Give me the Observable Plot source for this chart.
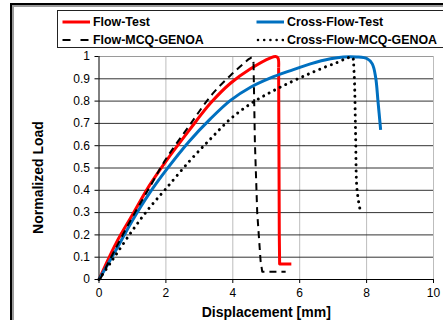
<!DOCTYPE html>
<html><head><meta charset="utf-8">
<script src="https://cdn.jsdelivr.net/npm/d3@7"></script>
<script src="https://cdn.jsdelivr.net/npm/@observablehq/plot@0.6"></script>
<style>
body{margin:0;background:#fff;}
#wrap{position:relative;width:443px;height:320px;overflow:hidden;font-family:"Liberation Sans",Arial,sans-serif;background:#fff;}
#frame{position:absolute;left:10px;top:3px;width:500px;height:400px;border-left:2px solid #000;border-top:2px solid #000;}
#frame2{position:absolute;left:12px;top:5px;width:500px;height:400px;border-left:2px solid #9a9a9a;border-top:2px solid #9a9a9a;}
#legend{position:absolute;left:57px;top:10px;width:400px;height:36px;border:1px solid #222;}
.item{position:absolute;display:flex;align-items:center;height:16px;font-weight:bold;font-size:12.4px;color:#000;white-space:nowrap;}
.item svg{margin-right:3px;}
#chart{position:absolute;left:0;top:47px;}
</style></head><body>
<div id="wrap"><div id="frame"></div><div id="frame2"></div><div id="legend"></div><div id="chart"></div></div>
<script>
// ---- data ----
const seriesNames = ["Flow-Test", "Cross-Flow-Test", "Flow-MCQ-GENOA", "Cross-Flow-MCQ-GENOA"];

const flowTestX = [0, 0.5, 1.0, 1.5, 2.0, 2.7, 3.33, 3.93, 4.53, 5.13, 5.28, 5.35, 5.37, 5.39, 5.40, 5.75];
const flowTestY = [0, 0.16, 0.29, 0.42, 0.53, 0.67, 0.79, 0.88, 0.945, 0.994, 1.0, 0.993, 0.95, 0.2, 0.07, 0.07];

const crossFlowTestX = [0, 0.5, 1.0, 1.5, 2.0, 2.7, 3.33, 3.93, 4.53, 5.13, 5.73, 6.32, 6.92, 7.3, 7.7, 8.02, 8.17, 8.27, 8.34, 8.42];
const crossFlowTestY = [0, 0.13, 0.265, 0.385, 0.489, 0.62, 0.72, 0.803, 0.862, 0.904, 0.937, 0.967, 0.99, 0.998, 0.998, 0.99, 0.967, 0.907, 0.80, 0.671];

const flowGenoaX = [0.03, 0.5, 1.0, 1.5, 2.0, 2.7, 3.38, 3.93, 4.3, 4.5, 4.58, 4.62, 4.66, 4.73, 4.83, 4.88, 5.58];
const flowGenoaY = [0, 0.14, 0.28, 0.41, 0.54, 0.69, 0.83, 0.915, 0.965, 0.99, 0.995, 0.97, 0.62, 0.3, 0.085, 0.035, 0.035];

const crossFlowGenoaX = [0, 0.39, 1.0, 1.5, 2.0, 2.7, 3.33, 3.93, 4.53, 5.13, 5.73, 6.32, 6.8, 7.1, 7.37, 7.57, 7.62, 7.67, 7.70, 7.74, 7.80, 7.84];
const crossFlowGenoaY = [0, 0.085, 0.22, 0.32, 0.407, 0.53, 0.63, 0.72, 0.788, 0.84, 0.885, 0.925, 0.955, 0.972, 0.99, 0.997, 0.94, 0.653, 0.43, 0.37, 0.317, 0.295];

// index where the sudden drop (straight segments) begins; -1 = smooth throughout
const dropStart = [12, -1, 11, -1];

const xTicks = [0, 2, 4, 6, 8, 10];
const yTicks = [0, 0.1, 0.2, 0.3, 0.4, 0.5, 0.6, 0.7, 0.8, 0.9, 1];
const xTitle = "Displacement [mm]";
const yTitle = "Normalized Load";

// ---- styles ----
const styles = [
  {stroke: "#ff0000", strokeWidth: 3, dash: null, cap: "butt"},
  {stroke: "#0070c0", strokeWidth: 3, dash: null, cap: "butt"},
  {stroke: "#000000", strokeWidth: 2, dash: "7 5", cap: "butt"},
  {stroke: "#000000", strokeWidth: 3, dash: "0.01 6.2", cap: "round"}
];
const xsList = [flowTestX, crossFlowTestX, flowGenoaX, crossFlowGenoaX];
const ysList = [flowTestY, crossFlowTestY, flowGenoaY, crossFlowGenoaY];
const rows = xsList.map((xs, k) => xs.map((x, i) => ({x, y: ysList[k][i]})));

// ---- legend ----
const legendPos = [[4, 3], [198, 3], [4, 21], [198, 21]];
const legend = document.getElementById("legend");
seriesNames.forEach((name, k) => {
  const s = styles[k];
  const it = document.createElement("div");
  it.className = "item";
  it.style.left = legendPos[k][0] + "px";
  it.style.top = legendPos[k][1] + "px";
  const dash = k === 2 ? "8 10" : s.dash;
  it.innerHTML = `<svg width="28" height="16"><line x1="${k===3?2:0.5}" x2="28" y1="8" y2="8" stroke="${s.stroke}" stroke-width="${k===3?2.6:s.strokeWidth}" ${dash ? `stroke-dasharray="${dash}"` : ""} stroke-linecap="${s.cap}"/></svg><span>${name}</span>`;
  legend.appendChild(it);
});

// ---- line marks ----
const lineMarks = [];
rows.forEach((r, k) => {
  const s = styles[k];
  const opts = {x: "x", y: "y", stroke: s.stroke, strokeWidth: s.strokeWidth, strokeDasharray: s.dash, strokeLinecap: s.cap};
  const b = dropStart[k];
  if (b < 0) {
    lineMarks.push(Plot.line(r, {...opts, curve: "catmull-rom"}));
  } else {
    lineMarks.push(Plot.line(r.slice(0, b + 1), {...opts, curve: "catmull-rom"}));
    lineMarks.push(Plot.line(r.slice(b), {...opts, curve: "linear", strokeLinejoin: "round"}));
  }
});

// ---- chart ----
const font = '"Liberation Sans", Arial, sans-serif';
const chart = Plot.plot({
  width: 443,
  height: 273,
  marginLeft: 98.5,
  marginRight: 10,
  marginTop: 9,
  marginBottom: 41,
  style: {fontFamily: font, fontSize: "12px", color: "#000", background: "transparent", overflow: "visible"},
  x: {domain: [0, 10]},
  y: {domain: [0, 1]},
  marks: [
    Plot.gridX(xTicks.slice(1), {stroke: "#bdbdbd", strokeOpacity: 1}),
    Plot.gridY(yTicks.slice(1, -1), {stroke: "#333", strokeOpacity: 1}),
    Plot.ruleY([1], {stroke: "#9a9a9a"}),
    ...lineMarks,
    Plot.ruleX([0], {stroke: "#000"}),
    Plot.ruleY([0], {stroke: "#000"}),
    Plot.axisY(yTicks, {tickSize: 4, tickPadding: 5, fontSize: 12, label: null, tickFormat: d => String(d)}),
    Plot.axisX(xTicks, {tickSize: 4, tickPadding: 5, fontSize: 12, label: null, tickFormat: d => String(d)}),
    Plot.text([xTitle], {text: d => d, frameAnchor: "bottom", dy: 33, textAnchor: "middle", lineAnchor: "middle", fontWeight: "bold", fontSize: 14}),
    Plot.text([yTitle], {text: d => d, frameAnchor: "left", dx: -60.5, dy: 9.5, rotate: -90, textAnchor: "middle", lineAnchor: "middle", fontWeight: "bold", fontSize: 14})
  ]
});
document.getElementById("chart").appendChild(chart);
</script>
</body></html>
